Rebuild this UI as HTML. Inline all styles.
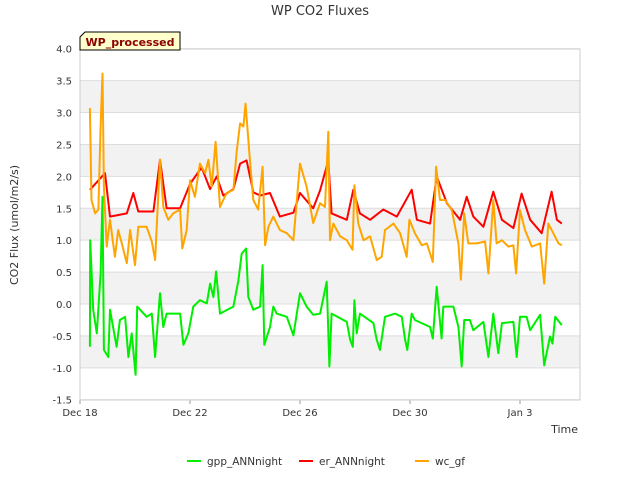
<!DOCTYPE html>
<html><head><meta charset="utf-8"><style>
body{margin:0;background:#fff;font-family:"Liberation Sans","DejaVu Sans",sans-serif;}
svg text{font-family:"DejaVu Sans","Liberation Sans",sans-serif;}
</style></head><body>
<svg id="chart" width="640" height="480" xmlns="http://www.w3.org/2000/svg">
<rect width="640" height="480" fill="#fff"/>
<text x="320" y="15" text-anchor="middle" font-size="13" fill="#333">WP CO2 Fluxes</text>
<g id="bands"></g><g id="grid"></g><g id="yticks"></g><g id="xticks"></g><g id="series"></g>
<rect x="80" y="49" width="500" height="351" fill="none" stroke="#ccc"/>
<text transform="translate(18,225) rotate(-90)" text-anchor="middle" font-size="11" fill="#333">CO2 Flux (umol/m2/s)</text>
<text x="578" y="433" text-anchor="end" font-size="11" fill="#333">Time</text>
<g>
<path d="M80,50 L80,37 L85,32 L180,32 L180,50 Z" fill="#ffffcc" stroke="#000"/>
<text x="130" y="46" text-anchor="middle" font-size="11" font-weight="bold" fill="#8b0000">WP_processed</text>
</g>
<g>
<g><line x1="187" y1="461" x2="201" y2="461" stroke="#00ee00" stroke-width="2"/><text x="207" y="465" font-size="10.5" fill="#333">gpp_ANNnight</text></g>
<g><line x1="299" y1="461" x2="313" y2="461" stroke="#ff0000" stroke-width="2"/><text x="319" y="465" font-size="10.5" fill="#333">er_ANNnight</text></g>
<g><line x1="415" y1="461" x2="429" y2="461" stroke="#ffa500" stroke-width="2"/><text x="435" y="465" font-size="10.5" fill="#333">wc_gf</text></g>
</g>
</svg>
<script>
const yTicks=[-1.5,-1.0,-0.5,0.0,0.5,1.0,1.5,2.0,2.5,3.0,3.5,4.0];
const xTickDays=[0,4,8,12,16];
const xTickLabels=["Dec 18","Dec 22","Dec 26","Dec 30","Jan 3"];
const erT=[0.36,0.91,1.09,1.7,1.94,2.12,2.67,2.91,3.15,3.64,4.0,4.42,4.73,4.97,5.21,5.58,5.82,6.06,6.3,6.55,6.91,7.27,7.76,8.0,8.48,8.73,9.03,9.15,9.7,9.94,10.18,10.55,11.03,11.52,12.06,12.25,12.73,12.97,13.34,13.82,14.06,14.3,14.67,15.03,15.34,15.76,16.06,16.37,16.79,17.15,17.34,17.52];
const erV=[1.79,2.05,1.37,1.42,1.74,1.45,1.45,2.26,1.5,1.5,1.88,2.14,1.8,2.0,1.7,1.8,2.2,2.25,1.75,1.7,1.74,1.37,1.43,1.74,1.5,1.78,2.25,1.42,1.32,1.79,1.42,1.32,1.48,1.37,1.79,1.32,1.26,2.0,1.58,1.32,1.68,1.37,1.21,1.76,1.32,1.19,1.73,1.32,1.11,1.76,1.32,1.26];
const gppT=[0.36,0.37,0.48,0.61,0.75,0.82,0.87,1.03,1.09,1.33,1.45,1.64,1.76,1.88,2.02,2.08,2.42,2.61,2.73,2.91,3.03,3.15,3.64,3.76,3.94,4.12,4.36,4.61,4.73,4.85,4.95,5.09,5.58,5.76,5.88,6.04,6.12,6.3,6.55,6.64,6.7,6.91,7.03,7.15,7.52,7.76,8.0,8.24,8.48,8.73,8.97,9.07,9.15,9.7,9.82,9.92,9.98,10.06,10.18,10.67,10.79,10.91,11.09,11.46,11.7,11.82,11.9,12.06,12.18,12.73,12.83,12.97,13.15,13.21,13.58,13.76,13.88,13.97,14.18,14.3,14.67,14.85,15.03,15.21,15.34,15.76,15.88,16.0,16.24,16.37,16.73,16.88,17.09,17.18,17.28,17.52];
const gppV=[-0.67,1.0,-0.09,-0.46,0.48,1.68,-0.72,-0.83,-0.09,-0.67,-0.25,-0.2,-0.83,-0.46,-1.11,-0.04,-0.2,-0.15,-0.83,0.17,-0.36,-0.15,-0.15,-0.64,-0.46,-0.04,0.06,0.01,0.32,0.11,0.51,-0.15,-0.04,0.37,0.79,0.87,0.11,-0.09,-0.04,0.61,-0.64,-0.36,-0.04,-0.15,-0.2,-0.49,0.17,-0.04,-0.17,-0.15,0.35,-0.98,-0.15,-0.28,-0.56,-0.67,0.06,-0.46,-0.15,-0.3,-0.56,-0.72,-0.2,-0.15,-0.2,-0.56,-0.72,-0.15,-0.25,-0.36,-0.54,0.27,-0.54,-0.04,-0.04,-0.36,-0.98,-0.25,-0.25,-0.41,-0.28,-0.83,-0.15,-0.77,-0.3,-0.28,-0.83,-0.2,-0.2,-0.41,-0.17,-0.96,-0.51,-0.62,-0.2,-0.33];
const wcT=[0.36,0.42,0.55,0.67,0.75,0.82,0.87,0.97,1.09,1.27,1.39,1.52,1.7,1.82,2.0,2.12,2.42,2.61,2.73,2.91,3.03,3.21,3.39,3.64,3.72,3.88,4.0,4.18,4.36,4.55,4.67,4.79,4.93,5.09,5.33,5.58,5.7,5.82,5.94,6.02,6.18,6.3,6.48,6.64,6.73,6.85,7.03,7.27,7.52,7.76,8.0,8.24,8.48,8.73,8.91,9.03,9.09,9.21,9.46,9.7,9.91,9.98,10.12,10.31,10.55,10.79,10.97,11.09,11.4,11.64,11.88,11.98,12.18,12.43,12.61,12.83,12.95,13.09,13.28,13.52,13.76,13.85,13.97,14.12,14.43,14.73,14.85,15.03,15.15,15.34,15.58,15.76,15.86,16.0,16.18,16.43,16.73,16.88,17.03,17.21,17.4,17.52];
const wcV=[3.07,1.63,1.42,1.48,2.78,3.61,1.84,0.9,1.32,0.74,1.16,0.95,0.64,1.16,0.61,1.21,1.21,0.98,0.69,2.26,1.52,1.32,1.42,1.48,0.87,1.16,1.94,1.68,2.2,2.05,2.26,1.84,2.54,1.52,1.74,1.79,2.41,2.83,2.78,3.14,2.26,1.63,1.48,2.15,0.92,1.21,1.37,1.16,1.11,1.0,2.2,1.84,1.27,1.58,1.52,2.7,1.0,1.26,1.06,1.0,0.85,1.86,1.26,1.0,1.06,0.69,0.74,1.16,1.26,1.11,0.74,1.32,1.11,0.92,0.95,0.66,2.15,1.63,1.63,1.47,0.95,0.38,1.42,0.95,0.95,0.98,0.48,1.63,0.95,1.0,0.9,0.92,0.48,1.47,1.16,0.9,0.95,0.32,1.26,1.11,0.95,0.92];
const NS="http://www.w3.org/2000/svg";
function xS(d){return 80+d*27.5;}
function yS(v){return 304-v*(351/5.5);}
function mk(tag,attrs,parent){const e=document.createElementNS(NS,tag);for(const k in attrs)e.setAttribute(k,attrs[k]);document.getElementById(parent).appendChild(e);return e;}
for(let i=0;i<yTicks.length-1;i++){
  if(i%2===1){
    const b=mk('rect',{x:80,y:yS(yTicks[i+1]),width:500,height:yS(yTicks[i])-yS(yTicks[i+1]),fill:'#f2f2f2'},'bands');
    
    
  }
}
yTicks.forEach(v=>{
  const l=mk('line',{x1:80,x2:580,y1:yS(v),y2:yS(v),stroke:'#dddddd'},'grid');
  
  
  const t=mk('text',{x:72,y:yS(v)+4,'text-anchor':'end','font-size':10,fill:'#333'},'yticks');
  t.textContent=v.toFixed(1);
  
  
});
xTickDays.forEach((d,i)=>{
  mk('line',{x1:xS(d),x2:xS(d),y1:400,y2:404,stroke:'#999'},'xticks');
  const t=mk('text',{x:xS(d),y:416,'text-anchor':'middle','font-size':10,fill:'#333'},'xticks');
  t.textContent=xTickLabels[i];
  
  
});
function line(T,V,color,name){
  const p=mk('polyline',{points:T.map((t,i)=>xS(t).toFixed(1)+','+yS(V[i]).toFixed(1)).join(' '),fill:'none',stroke:color,'stroke-width':2,'stroke-linejoin':'round'},'series');
  
  
}
line(gppT,gppV,'#00ee00','gpp-line');
line(erT,erV,'#ff0000','er-line');
line(wcT,wcV,'#ffa500','wc-gf-line');
</script>
</body></html>
